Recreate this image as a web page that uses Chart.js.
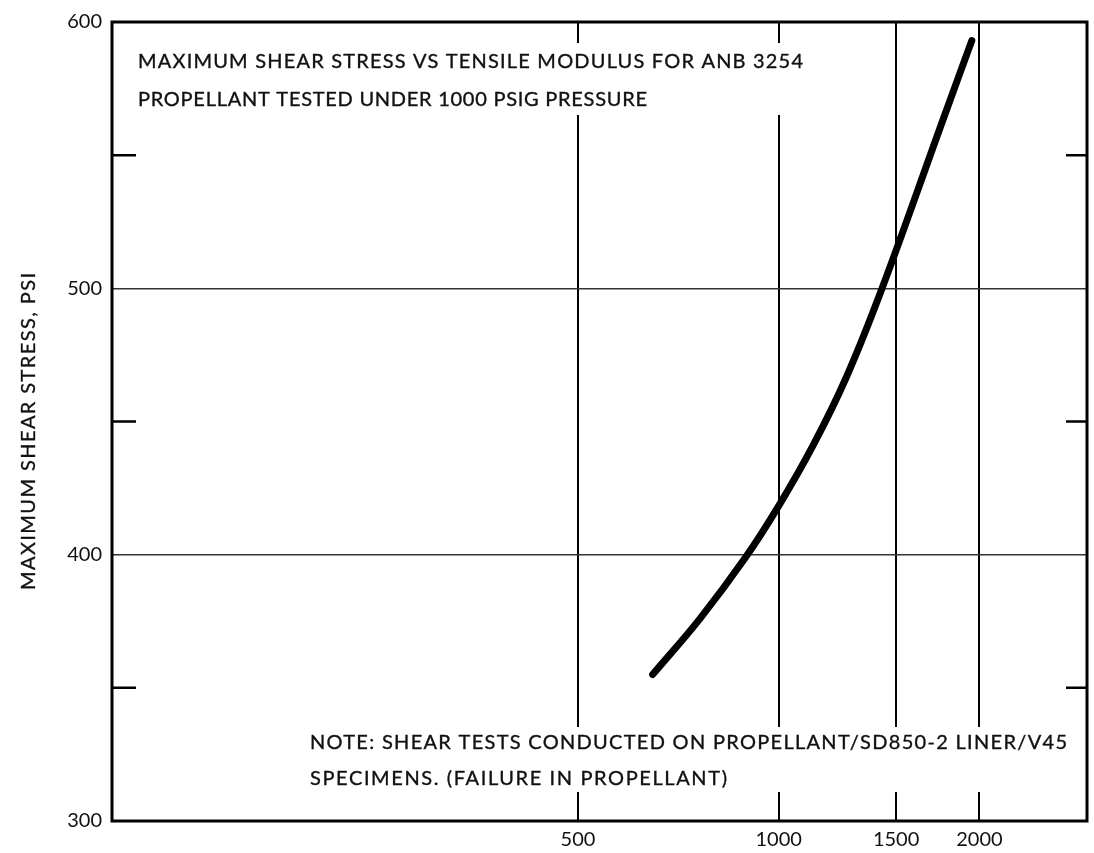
<!DOCTYPE html>
<html>
<head>
<meta charset="utf-8">
<script src="https://cdn.jsdelivr.net/npm/chart.js@4.4.1/dist/chart.umd.min.js"></script>
<style>
  html, body { margin: 0; background: #fff; }
  #wrap { width: 1094px; height: 853px; }
</style>
</head>
<body>
<div id="wrap"><canvas id="c" width="1094" height="853"></canvas></div>
<script>
// Tensile modulus (psi) and maximum shear stress (psi) along the curve
const modulusPsi     = [647, 762, 892, 1001, 1126, 1265, 1429, 1756, 1948];
const shearStressPsi = [355, 376, 399, 418.5, 441, 467, 500, 562, 593];

// Axis ticks
const modulusTicks     = [500, 1000, 1500, 2000];
const stressLabels     = [300, 400, 500, 600];
const stressGridLines  = [400, 500];
const stressMinorTicks = [350, 450, 550];

// Annotations
const titleLines = [
  'MAXIMUM SHEAR STRESS VS TENSILE MODULUS FOR ANB 3254',
  'PROPELLANT TESTED UNDER 1000 PSIG PRESSURE'
];
const noteLines = [
  'NOTE: SHEAR TESTS CONDUCTED ON PROPELLANT/SD850-2 LINER/V45',
  'SPECIMENS. (FAILURE IN PROPELLANT)'
];
const yAxisTitle = 'MAXIMUM SHEAR STRESS, PSI';

const FONT = 'Lato, "Open Sans", sans-serif';
const INK = '#111';

// Draw a line of text stretched to a given width through letter spacing
function spacedText(ctx, text, x, y, width, font) {
  ctx.font = font;
  ctx.letterSpacing = '0px';
  const w = ctx.measureText(text).width;
  const sp = (width - w) / (text.length - 1);
  ctx.letterSpacing = sp + 'px';
  ctx.fillText(text, x, y);
  ctx.lineWidth = 0.35;
  ctx.strokeStyle = INK;
  ctx.strokeText(text, x, y);
  ctx.letterSpacing = '0px';
}

const frame = {
  id: 'frame',
  beforeDatasetsDraw(chart) {
    const ctx = chart.ctx;
    ctx.save();
    // paper patches behind the two text blocks (they interrupt the grid)
    ctx.fillStyle = '#fff';
    ctx.fillRect(125, 43, 690, 72);
    ctx.fillRect(300, 727, 778, 65);
    ctx.restore();
  },
  afterDraw(chart) {
    const ctx = chart.ctx;
    const a = chart.chartArea;
    const y = chart.scales.y;
    ctx.save();
    // plot frame
    ctx.strokeStyle = '#000';
    ctx.lineWidth = 3;
    ctx.strokeRect(a.left, a.top, a.right - a.left, a.bottom - a.top);
    // short inward ticks on both sides
    ctx.lineWidth = 2.5;
    stressMinorTicks.forEach(v => {
      const py = y.getPixelForValue(v);
      ctx.beginPath();
      ctx.moveTo(a.left, py); ctx.lineTo(a.left + 24, py);
      ctx.moveTo(a.right - 21, py); ctx.lineTo(a.right, py);
      ctx.stroke();
    });
    // text blocks
    ctx.fillStyle = INK;
    ctx.textAlign = 'left';
    ctx.textBaseline = 'alphabetic';
    spacedText(ctx, titleLines[0], 138, 68, 665, '20px ' + FONT);
    spacedText(ctx, titleLines[1], 138, 106, 509, '20px ' + FONT);
    spacedText(ctx, noteLines[0], 310, 749, 757, '20px ' + FONT);
    spacedText(ctx, noteLines[1], 310, 785, 417, '20px ' + FONT);
    // vertical axis title
    ctx.translate(35, 590);
    ctx.rotate(-Math.PI / 2);
    spacedText(ctx, yAxisTitle, 0, 0, 317, '20px ' + FONT);
    ctx.restore();
  }
};

new Chart(document.getElementById('c'), {
  type: 'line',
  data: {
    datasets: [{
      data: modulusPsi.map((m, i) => ({ x: m, y: shearStressPsi[i] })),
      borderColor: '#000',
      borderWidth: 7,
      borderCapStyle: 'round',
      borderJoinStyle: 'round',
      pointRadius: 0,
      fill: false,
      tension: 0.4
    }]
  },
  options: {
    responsive: false,
    animation: false,
    layout: { padding: { top: 19, right: 7, left: 0, bottom: 0 } },
    plugins: { legend: { display: false }, tooltip: { enabled: false } },
    scales: {
      x: {
        type: 'logarithmic',
        min: 100,
        max: 2900,
        afterBuildTicks: s => { s.ticks = modulusTicks.map(v => ({ value: v })); },
        afterFit: s => { s.height = 32; },
        border: { display: false },
        grid: { color: '#000', lineWidth: 2, drawTicks: false },
        ticks: {
          autoSkip: false, maxRotation: 0, padding: 7,
          color: INK, font: { family: FONT, size: 20 },
          callback: v => String(v)
        }
      },
      y: {
        type: 'linear',
        min: 300,
        max: 600,
        afterFit: s => { s.width = 112; },
        border: { display: false },
        grid: {
          drawTicks: false,
          lineWidth: 1.5,
          color: c => stressGridLines.includes(c.tick && c.tick.value) ? '#333' : 'rgba(0,0,0,0)'
        },
        ticks: {
          stepSize: 50, padding: 10,
          color: INK, font: { family: FONT, size: 20 },
          callback: v => stressLabels.includes(v) ? String(v) : ''
        }
      }
    }
  },
  plugins: [frame]
});
</script>
</body>
</html>
